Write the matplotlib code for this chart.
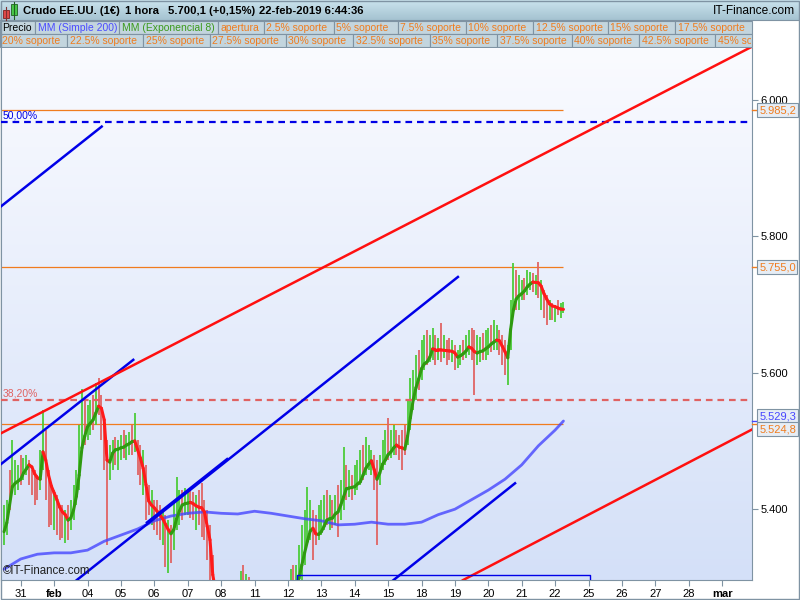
import numpy as np
import matplotlib
matplotlib.use("Agg")
import matplotlib.pyplot as plt
from matplotlib.collections import LineCollection
from matplotlib.colors import LinearSegmentedColormap
from matplotlib.patches import Rectangle
from matplotlib.transforms import Bbox

plt.rcParams['font.family'] = ['Liberation Sans', 'DejaVu Sans']

# ---------------- data ----------------
# trading days on the time axis, index 0 = 31 ene
day_labels = ['31', 'feb', '04', '05', '06', '07', '08', '11', '12', '13', '14',
              '15', '18', '19', '20', '21', '22', '25', '26', '27', '28', 'mar']

# 2h bars, 12 per trading day, the first one half a day before "31"
bar_start = -0.5
bars_per_day = 12

bar_high = [
    5.406, 5.414, 5.457, 5.501, 5.472, 5.465, 5.479, 5.475, 5.479, 5.472, 5.457, 5.457,
    5.450, 5.487, 5.545, 5.516, 5.457, 5.436, 5.428, 5.421, 5.406, 5.406, 5.399, 5.406,
    5.414, 5.436, 5.457, 5.523, 5.576, 5.560, 5.553, 5.560, 5.567, 5.585, 5.592, 5.567,
    5.531, 5.501, 5.494, 5.501, 5.506, 5.501, 5.509, 5.516, 5.509, 5.513, 5.523, 5.541,
    5.501, 5.494, 5.487, 5.465, 5.436, 5.428, 5.414, 5.414, 5.406, 5.399, 5.392, 5.384,
    5.377, 5.414, 5.447, 5.428, 5.428, 5.431, 5.428, 5.428, 5.425, 5.421, 5.428, 5.438,
    5.414, 5.399, 5.377, 5.333, 5.290, 5.275, 5.265, 5.260, 5.255, 5.258, 5.262, 5.268,
    5.280, 5.310, 5.318, 5.305, 5.300, 5.285, 5.275, 5.268, 5.262, 5.258, 5.255, 5.256,
    5.260, 5.264, 5.270, 5.276, 5.282, 5.288, 5.294, 5.312, 5.318, 5.318, 5.348, 5.377,
    5.399, 5.433, 5.414, 5.399, 5.392, 5.406, 5.414, 5.421, 5.428, 5.421, 5.414, 5.421,
    5.436, 5.443, 5.491, 5.465, 5.457, 5.450, 5.465, 5.472, 5.487, 5.494, 5.506, 5.494,
    5.487, 5.479, 5.472, 5.479, 5.501, 5.516, 5.534, 5.516, 5.523, 5.516, 5.509, 5.516,
    5.523, 5.560, 5.592, 5.604, 5.626, 5.633, 5.648, 5.655, 5.663, 5.655, 5.666, 5.655,
    5.651, 5.673, 5.655, 5.648, 5.651, 5.648, 5.641, 5.633, 5.641, 5.648, 5.655, 5.663,
    5.666, 5.663, 5.655, 5.652, 5.658, 5.663, 5.666, 5.670, 5.677, 5.670, 5.663, 5.655,
    5.648, 5.641, 5.707, 5.761, 5.751, 5.743, 5.736, 5.739, 5.751, 5.748, 5.746, 5.743,
    5.762, 5.736, 5.721, 5.714, 5.707, 5.702, 5.699, 5.707, 5.702, 5.704,
]
bar_low = [
    5.348, 5.362, 5.399, 5.428, 5.421, 5.428, 5.436, 5.443, 5.450, 5.436, 5.421, 5.406,
    5.414, 5.428, 5.457, 5.414, 5.374, 5.377, 5.370, 5.362, 5.355, 5.358, 5.350, 5.355,
    5.370, 5.384, 5.406, 5.428, 5.487, 5.494, 5.501, 5.509, 5.516, 5.523, 5.538, 5.501,
    5.457, 5.348, 5.443, 5.457, 5.465, 5.457, 5.472, 5.475, 5.472, 5.479, 5.479, 5.484,
    5.450, 5.436, 5.421, 5.384, 5.392, 5.377, 5.370, 5.362, 5.355, 5.348, 5.315, 5.306,
    5.321, 5.340, 5.370, 5.377, 5.384, 5.392, 5.392, 5.387, 5.384, 5.370, 5.377, 5.359,
    5.355, 5.326, 5.289, 5.267, 5.250, 5.235, 5.225, 5.220, 5.215, 5.218, 5.220, 5.225,
    5.230, 5.240, 5.245, 5.240, 5.238, 5.232, 5.225, 5.220, 5.215, 5.212, 5.210, 5.212,
    5.215, 5.218, 5.222, 5.228, 5.232, 5.238, 5.245, 5.252, 5.258, 5.267, 5.282, 5.296,
    5.318, 5.348, 5.355, 5.326, 5.348, 5.355, 5.362, 5.370, 5.377, 5.370, 5.373, 5.377,
    5.359, 5.384, 5.399, 5.414, 5.418, 5.414, 5.421, 5.428, 5.436, 5.443, 5.450, 5.457,
    5.450, 5.428, 5.348, 5.436, 5.457, 5.465, 5.472, 5.475, 5.479, 5.479, 5.472, 5.457,
    5.479, 5.494, 5.516, 5.545, 5.560, 5.575, 5.589, 5.604, 5.611, 5.616, 5.619, 5.611,
    5.619, 5.616, 5.622, 5.611, 5.619, 5.616, 5.604, 5.607, 5.611, 5.619, 5.622, 5.626,
    5.619, 5.567, 5.611, 5.616, 5.619, 5.619, 5.626, 5.630, 5.633, 5.633, 5.626, 5.611,
    5.597, 5.582, 5.633, 5.685, 5.692, 5.692, 5.707, 5.707, 5.714, 5.721, 5.718, 5.714,
    5.710, 5.692, 5.680, 5.670, 5.677, 5.677, 5.674, 5.685, 5.680, 5.688,
]
# g = bar closed up, r = bar closed down
bar_dir = ("ggrgggrggrrr" "rggrrrgrrrgr" "gggggrggrgrr" "rrggrggrggrg"
           "rrgrrgrrrgrg" "rgggrggrrgrr" "rrrrgrrgrgrg" "ggrgrrgrgrrg"
           "grggrgggrggg" "gggrrgggrgrg" "rggrgrgggrgg" "grrgggrggrrr"
           "rggggrggrggr" "grgrrgrggrgg" "rrggrggrggrr" "rgggrggrggrg"
           "rgrrgrgrgg")

ema8 = [
    5.367, 5.380, 5.406, 5.433, 5.438, 5.441, 5.444, 5.453, 5.459, 5.465, 5.462, 5.452,
    5.446, 5.444, 5.484, 5.472, 5.450, 5.434, 5.424, 5.414, 5.403, 5.396, 5.392, 5.384,
    5.387, 5.399, 5.419, 5.450, 5.490, 5.507, 5.521, 5.526, 5.531, 5.541, 5.551, 5.548,
    5.531, 5.472, 5.469, 5.482, 5.487, 5.488, 5.490, 5.491, 5.494, 5.496, 5.499, 5.500,
    5.487, 5.475, 5.460, 5.436, 5.412, 5.406, 5.402, 5.397, 5.392, 5.386, 5.378, 5.370,
    5.364, 5.370, 5.386, 5.397, 5.406, 5.408, 5.409, 5.410, 5.408, 5.405, 5.403, 5.402,
    5.396, 5.375, 5.355, 5.304, 5.280, 5.265, 5.255, 5.248, 5.243, 5.240, 5.240, 5.242,
    5.246, 5.250, 5.253, 5.254, 5.252, 5.248, 5.244, 5.240, 5.237, 5.235, 5.234, 5.234,
    5.235, 5.237, 5.240, 5.244, 5.249, 5.255, 5.262, 5.270, 5.280, 5.289, 5.299, 5.318,
    5.336, 5.353, 5.368, 5.372, 5.364, 5.363, 5.367, 5.375, 5.384, 5.386, 5.387, 5.393,
    5.396, 5.406, 5.418, 5.430, 5.431, 5.432, 5.433, 5.437, 5.440, 5.450, 5.460, 5.466,
    5.471, 5.458, 5.444, 5.453, 5.466, 5.472, 5.480, 5.484, 5.490, 5.494, 5.491, 5.490,
    5.488, 5.507, 5.534, 5.560, 5.578, 5.591, 5.606, 5.613, 5.616, 5.623, 5.635, 5.634,
    5.634, 5.6335, 5.633, 5.6325, 5.632, 5.6315, 5.629, 5.623, 5.625, 5.628, 5.632, 5.638,
    5.636, 5.631, 5.629, 5.631, 5.632, 5.635, 5.638, 5.642, 5.645, 5.648, 5.647, 5.639,
    5.631, 5.622, 5.663, 5.692, 5.708, 5.713, 5.716, 5.720, 5.726, 5.730, 5.733, 5.7325,
    5.732, 5.727, 5.716, 5.708, 5.701, 5.698, 5.697, 5.695, 5.6935, 5.693,
]

# simple 200 moving average, every 6th bar
sma200_idx = list(range(0, 199, 6)) + [201]
sma200 = [5.312, 5.327, 5.334, 5.336, 5.336, 5.340, 5.353, 5.362, 5.371, 5.383,
          5.390, 5.394, 5.396, 5.394, 5.393, 5.397, 5.394, 5.390, 5.386, 5.383,
          5.377, 5.378, 5.381, 5.378, 5.378, 5.381, 5.392, 5.400, 5.414, 5.428,
          5.444, 5.465, 5.493, 5.516, 5.5293]

# drawn trend lines: (day, price) -> (day, price)
blue_lines = [((-0.59, 5.844), (2.425, 5.961)),
              ((-0.62, 5.465), (3.37, 5.619)),
              ((1.676, 5.296), (13.09, 5.7405)),
              ((3.78, 5.3805), (6.18, 5.4735)),
              ((11.16, 5.296), (14.80, 5.438))]
red_lines = [((-0.59, 5.5113), (21.9, 6.0783)),
             ((13.24, 5.296), (21.9, 5.517))]
blue_box = (8.28, 17.05, 5.303)   # left day, right day, top price

# horizontal levels
level_top = 5.9852
level_high = 5.7550
level_open = 5.5248
fib_50 = 5.9677
fib_382 = 5.5601

legend_row1 = ['Precio', 'MM (Simple 200)', 'MM (Exponencial 8)', 'apertura',
               '2.5% soporte', '5% soporte', '7.5% soporte', '10% soporte',
               '12.5% soporte', '15% soporte', '17.5% soporte']
legend_row2 = ['20% soporte', '22.5% soporte', '25% soporte', '27.5% soporte',
               '30% soporte', '32.5% soporte', '35% soporte', '37.5% soporte',
               '40% soporte', '42.5% soporte', '45% soporte']

# ---------------- style ----------------
ORANGE = '#f07c1e'
GREEN_BAR = '#4ccc3a'
RED_BAR = '#e06464'
EMA_UP = '#2f9a10'
EMA_DN = '#ff1a1a'
FRAME = '#7f93a3'


def es_fmt(v, dec):
    s = f"{v * 1000:,.{dec}f}"
    return s.replace(',', '#').replace('.', ',').replace('#', '.')


fig = plt.figure(figsize=(8, 6), dpi=100, facecolor='white')

# background layer in pixel coordinates: header, legend cells, frame
bg = fig.add_axes([0, 0, 1, 1], zorder=0)
hdr = np.linspace(0, 1, 32).reshape(-1, 1)
bg.imshow(hdr, extent=(0, 800, 20, 0), aspect='auto', zorder=0,
          cmap=LinearSegmentedColormap.from_list('h', ['#cae3ed', '#a5c3d1']))
bg.set_xlim(0, 800)
bg.set_ylim(600, 0)
bg.axis('off')
bg.plot([0, 800], [20, 20], color=FRAME, lw=0.8)

# little candle icon
bg.plot([6.3, 6.3], [6.5, 20], color='#803030', lw=0.8)
bg.add_patch(Rectangle((3.3, 9.5), 6, 8.5, fc='#e04848', ec='#802020', lw=0.6))
bg.plot([13.7, 13.7], [1.5, 19], color='#206020', lw=0.8)
bg.add_patch(Rectangle((10.7, 3.5), 6, 11.5, fc='#48c848', ec='#206020', lw=0.6))

for txt, x in [('Crudo EE.UU. (1€)', 23), ('1 hora', 125), ('5.700,1 (+0,15%)', 168),
               ('22-feb-2019 6:44:36', 259)]:
    bg.text(x, 11.5, txt, fontsize=8.1, fontweight='bold', va='center', ha='left')
bg.text(795, 11.5, 'IT-Finance.com', fontsize=8.6, va='center', ha='right')

row1_edges = [0, 35, 119, 218, 264, 334, 398, 466, 533, 608, 675, 752]
row2_edges = [0, 67, 143, 210, 286, 353, 430, 497, 572, 639, 715, 752]
row1_colors = ['black', '#4b4bff', '#3c9a1c'] + [ORANGE] * 8
for labels, edges, y0, h, colors in [(legend_row1, row1_edges, 21, 12.5, row1_colors),
                                     (legend_row2, row2_edges, 34, 13, [ORANGE] * 11)]:
    for k, lab in enumerate(labels):
        x0, x1 = edges[k], edges[k + 1]
        cell = Rectangle((x0, y0), x1 - x0, h, fc='#c3d5de', ec=FRAME, lw=0.8)
        bg.add_patch(cell)
        t = bg.text(x0 + 2.5, y0 + h / 2 + 0.5, lab, fontsize=7.5, color=colors[k],
                    va='center', ha='left')
        # cut the text at the cell border (figure pixels, origin bottom-left)
        t.set_clip_box(Bbox.from_extents(x0, 600 - y0 - h, x1 - 1, 600 - y0))
        t.set_clip_on(True)

bg.add_patch(Rectangle((0.5, 0.5), 798.5, 598.5, fill=False, ec=FRAME, lw=1))

# main price panel
ax = fig.add_axes([1 / 800, 20 / 600, 751 / 800, 532 / 600], zorder=1)
ax.set_facecolor('none')
grad = np.linspace(0, 1, 256).reshape(-1, 1)
ax.imshow(grad, extent=[0, 1, 0, 1], transform=ax.transAxes, origin='lower',
          aspect='auto', zorder=0,
          cmap=LinearSegmentedColormap.from_list('p', ['#d4e0f8', '#fafbff']))

t_bar = bar_start + np.arange(len(bar_high)) / bars_per_day
t_last = t_bar[-1]
x_left, x_right = -0.59, 21.895

# thin horizontal levels
for lv in [level_top, level_high, level_open]:
    ax.hlines(lv, x_left, t_last, color=ORANGE, lw=0.9, zorder=2)
ax.axhline(fib_50, color='#0000e6', lw=1.6, ls=(0, (3, 2.2)), zorder=6)
ax.axhline(fib_382, color='#e06262', lw=1.6, ls=(0, (3, 2.2)), zorder=6)
ytr = ax.get_yaxis_transform()
ax.text(0.002, fib_50 + 0.002, '50,00%', transform=ytr, color='#0000e6', fontsize=7.5,
        va='bottom', ha='left', zorder=7)
ax.text(0.002, fib_382 + 0.002, '38,20%', transform=ytr, color='#e06262', fontsize=7.5,
        va='bottom', ha='left', zorder=7)

# price bars
bar_cols = [GREEN_BAR if c == 'g' else RED_BAR for c in bar_dir]
ax.vlines(t_bar, bar_low, bar_high, colors=bar_cols, lw=1.3, zorder=3)

# SMA 200
t_sma = bar_start + np.array(sma200_idx) / bars_per_day
ax.plot(t_sma, sma200, color='#4646ff', alpha=0.8, lw=2.0, zorder=4,
        solid_capstyle='round')

# EMA 8, green when rising, red when falling
pts = np.column_stack([t_bar, ema8])
segs = np.stack([pts[:-1], pts[1:]], axis=1)
seg_cols = []
cur = EMA_UP
for dv in np.diff(ema8):
    if dv > 0:
        cur = EMA_UP
    elif dv < 0:
        cur = EMA_DN
    seg_cols.append(cur)
ax.add_collection(LineCollection(segs, colors=seg_cols, linewidths=2.2, zorder=5,
                                 capstyle='round'))

# trend lines and box
for (p0, p1) in blue_lines:
    ax.plot([p0[0], p1[0]], [p0[1], p1[1]], color='#0000e8', lw=1.8, zorder=6)
for (p0, p1) in red_lines:
    ax.plot([p0[0], p1[0]], [p0[1], p1[1]], color='#ff1010', lw=1.8, zorder=6)
bx0, bx1, btop = blue_box
ax.plot([bx0, bx0, bx1, bx1], [5.2, btop, btop, 5.2], color='#0000e8', lw=1.0, zorder=6)

ax.text(0.003, 0.006, '©IT-Finance.com', transform=ax.transAxes, fontsize=8.3,
        color='#202020', va='bottom', ha='left', zorder=7)

ax.set_xlim(x_left, x_right)
ax.set_ylim(5.2962, 6.0762)

# axes look
for side in ['left', 'right', 'bottom']:
    ax.spines[side].set_color(FRAME)
ax.spines['top'].set_visible(False)

ax.set_xticks(range(len(day_labels)))
ax.set_xticklabels(day_labels)
for lab in ax.get_xticklabels():
    if lab.get_text() in ('feb', 'mar'):
        lab.set_fontweight('bold')
ax.tick_params(axis='x', direction='out', length=4, pad=2.5, labelsize=8,
               color=FRAME)

yt = [5.4, 5.6, 5.8, 6.0]
ax.set_yticks(yt)
ax.set_yticklabels([es_fmt(v, 0) for v in yt])
ax.yaxis.tick_right()
ax.tick_params(axis='y', direction='out', length=4, pad=2, labelsize=8, color=FRAME)

# value boxes on the right axis
box = dict(boxstyle='square,pad=0.15', fc='#e6edf5', ec=FRAME, lw=0.8)
for val, col, va in [(level_top, ORANGE, 'center'), (level_high, ORANGE, 'center'),
                     (sma200[-1], '#4646ff', 'bottom'), (level_open, ORANGE, 'top')]:
    ax.plot([1.0, 1.008], [val, val], transform=ytr, color=col, lw=1, clip_on=False,
            zorder=8)
    ax.text(1.0095, val, es_fmt(val, 1), transform=ytr, color=col, fontsize=8,
            va=va, ha='left', clip_on=False, bbox=box, zorder=9)

fig.savefig('out.png', dpi=100, facecolor='white')
